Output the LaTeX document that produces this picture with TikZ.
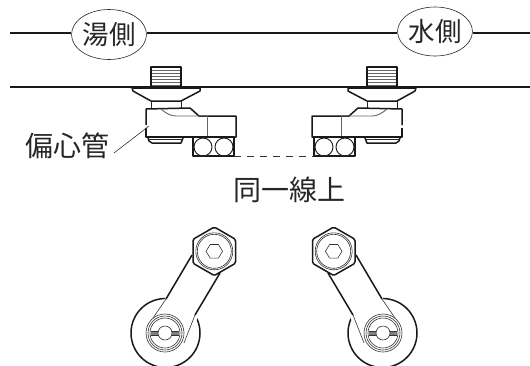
\documentclass[tikz,border=0pt]{standalone}
\usepackage{fontspec}
\setmainfont{Noto Sans CJK JP}
\usetikzlibrary{shapes.geometric}
\tikzset{
  x=1pt,y=-1pt,
  heavy/.style={draw=black!90,line width=1.5pt,line join=round},
  medium/.style={draw=black!85,line width=1pt,line join=round},
  fine/.style={draw=black!80,line width=.6pt},
  grayline/.style={draw=black!60,line width=.9pt},
  tag/.style={ellipse,draw=black!85,line width=.6pt,fill=white,inner sep=0pt,minimum width=71pt,minimum height=50pt,font=\fontsize{26.5}{26.5}\selectfont,text=black!85},
  caption/.style={inner sep=0pt,font=\fontsize{28}{28}\selectfont,text=black!85},
}
\newcommand{\fittingunit}{%
  % threaded stem
  \foreach \yy in {70,73,...,85}{\draw[grayline,line width=.5pt] (151,\yy) -- (181,\yy);}
  \draw[heavy] (151,87) -- (151,67) -- (181,67) -- (181,87);
  % flange
  \draw[heavy,fill=white] (132,88) -- (200,88) -- (200,91) -- (181,101) -- (151,101) -- (133,91) -- cycle;
  % neck
  \draw[medium] (151,101) -- (151,108) (181,101) -- (181,108);
  % lower cup
  \draw[heavy] (148,138) -- (149,141) -- (152,143) -- (181,143) -- (183,138);
  \draw[medium] (149,139) -- (183,139);
  % elbow body
  \draw[heavy] (146,125) -- (146,109) -- (190,108) -- (199,116) -- (236,116) -- (236,137) -- (193,137);
  \draw[heavy] (146,128) -- (146,137) -- (193,137);
  \draw[grayline] (207,116) -- (207,137);
  \draw[grayline] (161,109) .. controls (167,114) and (171,116) .. (176,116) -- (207,116);
  % square block with two ports
  \draw[heavy] (193,137) rectangle (234,156);
  \draw[medium] (203,147) circle[radius=9];
  \draw[medium] (224,147) circle[radius=9];
  % wheel
  \draw[heavy] (165.5,333) circle[radius=34.5];
  % arm
  \fill[white] (192,255) -- (153,318) -- (184,345) -- (220,273) -- cycle;
  \draw[fine] (166,299) -- (153,318) (195,315) -- (184,343);
  \draw[heavy] (192,255) -- (166,299) (220,273) -- (195,315);
  % hub
  \draw[fine,fill=white] (165,333) circle[radius=19];
  \draw[fine] (165,333) circle[radius=17];
  \draw[fine] (165,333) circle[radius=15];
  \fill[black!50] (151,331) rectangle (179,335);
  \draw[fine] (151,331) -- (179,331) (151,335) -- (179,335);
  \draw[fine,fill=white] (165,333) circle[radius=7];
  % nut
  \draw[heavy,fill=white,rounded corners=1.5pt] (214.3,227) -- (235.5,239.3) -- (235.5,263.3) -- (214.3,275.5) -- (193,263.3) -- (193,239.3) -- cycle;
  \draw[fine] (214.3,251.3) circle[radius=18.5];
  \draw[fine] (214.3,251.3) circle[radius=17];
  \draw[fine] (206,251.3) -- (210.2,244.5) -- (218.4,244.5) -- (222.6,251.3) -- (218.4,258.1) -- (210.2,258.1) -- cycle;
}
\begin{document}
\begin{tikzpicture}
\useasboundingbox (0,0) rectangle (530,365);
\clip (0,0) rectangle (530,365);
\fill[white] (0,0) rectangle (530,365);
% pipes and side tags
\coordinate (topstart) at (10,33);
\coordinate (topend) at (530,33);
\coordinate (wallstart) at (10,87);
\coordinate (wallend) at (530,87);
\node[tag] (hot) at (109,34.5) {湯側};
\node[tag,minimum height=49pt] (cold) at (435,31.5) {水側};
\draw[heavy] (topstart) -- (hot.west |- topstart);
\draw[heavy] (hot.east |- topstart) -- (cold.west |- topstart);
\draw[heavy] (cold.east |- topstart) -- (topend);
\draw[heavy] (wallstart) -- (wallend);
% fittings
\fittingunit
\begin{scope}[xshift=548pt,xscale=-1]
\fittingunit
\end{scope}
% labels
\node[caption] (pipe) at (67,146) {偏心管};
\coordinate (pipetip) at (149,126);
\draw[fine] (114,153) -- (pipetip);
\node[caption] (line) at (289,190) {同一線上};
\coordinate (dashl) at (234,156);
\coordinate (dashr) at (314,156);
\draw[fine,dash pattern=on 7pt off 6pt] (dashl) -- (dashr);
\end{tikzpicture}
\end{document}
